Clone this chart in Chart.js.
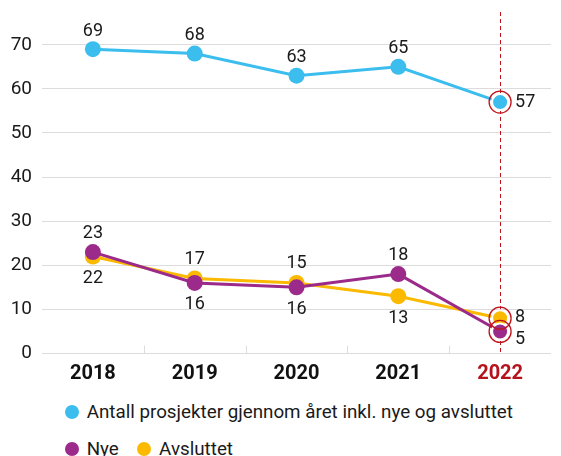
<!DOCTYPE html>
<html>
<head>
<meta charset="utf-8">
<script src="https://cdn.jsdelivr.net/npm/chart.js@4/dist/chart.umd.min.js"></script>
<style>
  html, body { margin: 0; padding: 0; background: #fff; }
  #wrap { position: relative; width: 561px; height: 456px; }
  #c { position: absolute; left: 0; top: 0; }
  .leg { position: absolute; font-family: Roboto, "Noto Sans", sans-serif; font-size: 18.8px; color: #1a1a1a; white-space: nowrap; line-height: 20px; }
  .dot { display: inline-block; width: 14px; height: 14px; border-radius: 50%; vertical-align: -1px; margin-right: 3px; }
</style>
</head>
<body>
<div id="wrap">
  <canvas id="c" width="561" height="392"></canvas>
  <div class="leg" style="left:65px; top:402px;"><span class="dot" style="background:#3bbdee"></span> Antall prosjekter gjennom året inkl. nye og avsluttet</div>
  <div class="leg" style="left:65px; top:439px;"><span class="dot" style="background:#9b2a8a"></span> Nye <span style="display:inline-block;width:14px"></span><span class="dot" style="background:#fbb900"></span> Avsluttet</div>
</div>
<script>
const years = ["2018", "2019", "2020", "2021", "2022"];
const antall = [69, 68, 63, 65, 57];
const nye = [23, 16, 15, 18, 5];
const avsluttet = [22, 17, 16, 13, 8];
const yTicks = [0, 10, 20, 30, 40, 50, 60, 70];

const BLUE = "#3bbdee", PURPLE = "#9b2a8a", YELLOW = "#fbb900", RED = "#c0141c";
const FONT = "Roboto, 'Noto Sans', sans-serif";

// label placement styles per dataset (not data)
const placement = [
  ["above", "above", "above", "above", "right"],
  ["above", "below", "above", "above", "rightBelow"],
  ["below", "above", "below", "below", "right"]
];

const lastIdx = years.length - 1;
function ptArr(normal, last) { return years.map((_, i) => i === lastIdx ? last : normal); }

const overlay = {
  id: "overlay",
  beforeDatasetsDraw(chart) {
    const ctx = chart.ctx, x = chart.scales.x, area = chart.chartArea;
    ctx.save();
    ctx.strokeStyle = "#dcdcdc"; ctx.lineWidth = 1;
    for (let i = 0; i < years.length - 1; i++) {
      const px = Math.round((x.getPixelForValue(i) + x.getPixelForValue(i + 1)) / 2) + 0.5;
      ctx.beginPath(); ctx.moveTo(px, area.bottom - 8); ctx.lineTo(px, area.bottom); ctx.stroke();
    }
    const lx = Math.round(x.getPixelForValue(lastIdx)) + 0.5;
    ctx.strokeStyle = RED; ctx.setLineDash([4, 3]); ctx.lineWidth = 1;
    ctx.beginPath(); ctx.moveTo(lx, 12); ctx.lineTo(lx, area.bottom); ctx.stroke();
    ctx.restore();
  },
  afterDatasetsDraw(chart) {
    const ctx = chart.ctx;
    ctx.save();
    chart.data.datasets.forEach((ds, di) => {
      const el = chart.getDatasetMeta(di).data[lastIdx];
      ctx.strokeStyle = RED; ctx.lineWidth = 1.3;
      ctx.beginPath(); ctx.arc(el.x, el.y, 11, 0, Math.PI * 2); ctx.stroke();
    });
    ctx.font = "18px " + FONT; ctx.fillStyle = "#1a1a1a";
    chart.data.datasets.forEach((ds, di) => {
      const meta = chart.getDatasetMeta(di);
      meta.data.forEach((el, i) => {
        const v = ds.data[i], p = placement[di][i];
        let lx = el.x, ly = el.y;
        ctx.textBaseline = "middle";
        if (di === 0) {
          ctx.textAlign = p === "right" ? "left" : "center";
          if (p === "right") { lx = el.x + 15; } else { ly = el.y - 18; }
        } else {
          const a = chart.getDatasetMeta(1).data[i].y, b = chart.getDatasetMeta(2).data[i].y;
          const top = Math.min(a, b), bot = Math.max(a, b);
          if (p === "above") { ctx.textAlign = "center"; ly = top - 19; }
          else if (p === "below") { ctx.textAlign = "center"; ly = bot + 22; }
          else if (p === "right") { ctx.textAlign = "left"; lx = el.x + 15; ly = el.y - 1; }
          else { ctx.textAlign = "left"; lx = el.x + 15; ly = el.y + 8; }
        }
        ctx.fillText(String(v), lx, ly);
      });
    });
    ctx.restore();
  }
};

new Chart(document.getElementById("c"), {
  type: "line",
  data: {
    labels: years,
    datasets: [
      { label: "Antall prosjekter gjennom året inkl. nye og avsluttet", data: antall,
        borderColor: BLUE, backgroundColor: BLUE, borderWidth: 3,
        pointRadius: 8, pointHoverRadius: 8, pointBackgroundColor: BLUE,
        pointBorderColor: "#fff", pointBorderWidth: ptArr(0, 2) },
      { label: "Nye", data: nye,
        borderColor: PURPLE, backgroundColor: PURPLE, borderWidth: 3,
        pointRadius: 8, pointHoverRadius: 8, pointBackgroundColor: PURPLE,
        pointBorderColor: "#fff", pointBorderWidth: ptArr(0, 2) },
      { label: "Avsluttet", data: avsluttet,
        borderColor: YELLOW, backgroundColor: YELLOW, borderWidth: 3,
        pointRadius: 8, pointHoverRadius: 8, pointBackgroundColor: YELLOW,
        pointBorderColor: "#fff", pointBorderWidth: ptArr(0, 2) }
    ]
  },
  options: {
    responsive: false,
    animation: false,
    layout: { padding: { top: 2, right: 0, left: 0, bottom: 0 } },
    plugins: { legend: { display: false }, tooltip: { enabled: false } },
    scales: {
      x: {
        offset: true,
        grid: { display: false },
        border: { display: false },
        ticks: {
          padding: 0,
          font: { family: FONT, size: 20, weight: "bold" },
          color: (c) => c.index === lastIdx ? "#b5121b" : "#111"
        },
        afterFit: (s) => { s.height = 38.5; }
      },
      y: {
        min: 0, max: 75.3,
        afterBuildTicks: (s) => { s.ticks = yTicks.map(v => ({ value: v })); },
        grid: { color: "#dcdcdc", drawTicks: false, lineWidth: 1 },
        border: { display: false },
        ticks: { padding: 10, font: { family: FONT, size: 19 }, color: "#1a1a1a" },
        afterFit: (s) => { s.width = 42; }
      }
    }
  },
  plugins: [overlay]
});
</script>
</body>
</html>
